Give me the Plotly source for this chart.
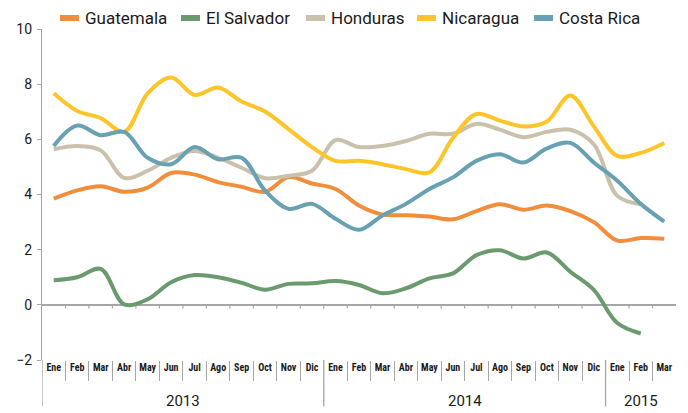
import plotly.graph_objects as go

months = ["Ene", "Feb", "Mar", "Abr", "May", "Jun", "Jul", "Ago", "Sep", "Oct", "Nov", "Dic",
          "Ene", "Feb", "Mar", "Abr", "May", "Jun", "Jul", "Ago", "Sep", "Oct", "Nov", "Dic",
          "Ene", "Feb", "Mar"]
years = ["2013", "2014", "2015"]
year_centers = [5.5, 17.5, 25]
year_bounds = [-0.5, 11.5, 23.5]

guatemala = [3.85, 4.15, 4.3, 4.1, 4.25, 4.78, 4.72, 4.45, 4.28, 4.1, 4.63, 4.4,
             4.2, 3.6, 3.27, 3.25, 3.2, 3.1, 3.4, 3.65, 3.45, 3.6, 3.4, 3.0,
             2.33, 2.42, 2.4]
el_salvador = [0.89, 1.0, 1.3, 0.02, 0.2, 0.82, 1.08, 1.0, 0.8, 0.55, 0.76, 0.78,
               0.86, 0.72, 0.42, 0.6, 0.96, 1.14, 1.8, 1.98, 1.68, 1.9, 1.2, 0.54,
               -0.66, -1.04, None]
honduras = [5.64, 5.76, 5.6, 4.6, 4.86, 5.33, 5.58, 5.33, 4.97, 4.59, 4.68, 4.86,
            5.97, 5.72, 5.76, 5.94, 6.2, 6.2, 6.56, 6.35, 6.08, 6.27, 6.35, 5.82,
            3.95, 3.65, None]
nicaragua = [7.67, 7.03, 6.77, 6.27, 7.67, 8.24, 7.61, 7.88, 7.37, 7.01, 6.37, 5.72,
             5.22, 5.22, 5.1, 4.92, 4.8, 6.05, 6.92, 6.68, 6.47, 6.65, 7.59, 6.47,
             5.4, 5.51, 5.87]
costa_rica = [5.76, 6.5, 6.15, 6.27, 5.33, 5.1, 5.72, 5.28, 5.33, 4.14, 3.48, 3.66,
              3.12, 2.72, 3.24, 3.66, 4.2, 4.62, 5.22, 5.46, 5.16, 5.67, 5.87, 5.16,
              4.5, 3.66, 3.02]

series = [
    ("Guatemala", guatemala, "#F08E3C"),
    ("El Salvador", el_salvador, "#6B9A6E"),
    ("Honduras", honduras, "#C9C1AB"),
    ("Nicaragua", nicaragua, "#FDC52A"),
    ("Costa Rica", costa_rica, "#68A2B2"),
]

COND = "Roboto Condensed, Liberation Sans Narrow, DejaVu Sans Condensed, Roboto, sans-serif"
FONT = "Roboto, Liberation Sans, sans-serif"
AXIS = "#A6A6A6"

# figure geometry (the page body adds an 8px offset, so the figure is 680x405)
W, H = 680, 405
ML, MR, MT, MB = 34, 12, 21, 53
PW, PH = W - ML - MR, H - MT - MB


def px_to_paper_x(px):
    return (px - ML) / PW


def px_to_paper_y(py):
    return 1 + (MT - py) / PH


x = list(range(len(months)))
fig = go.Figure()
for name, vals, color in series:
    fig.add_trace(go.Scatter(
        x=x, y=vals, name=name, mode="lines",
        line=dict(color=color, width=4, shape="spline", smoothing=1.0),
        connectgaps=False, hoverinfo="skip", showlegend=False,
    ))

inner_bounds = [i + 0.5 for i in range(len(months) - 1)]
month_seps = [b for b in inner_bounds if b not in year_bounds]

shapes = []
for b in inner_bounds:
    shapes.append(dict(type="line", xref="x", yref="y", x0=b, x1=b, y0=0, y1=-0.13,
                       line=dict(color=AXIS, width=1.2), layer="below"))
for b in year_bounds:
    shapes.append(dict(type="line", xref="x", yref="paper", x0=b, x1=b, y0=-0.14, y1=0,
                       line=dict(color=AXIS, width=1.3)))

annotations = []
for yr, c in zip(years, year_centers):
    annotations.append(dict(text=yr, x=c, xref="x", y=-0.124, yref="paper",
                            yanchor="middle", showarrow=False,
                            font=dict(family=FONT, size=15, color="#1a1a1a")))

# legend row: swatch + label per series
legend_left_px = [52, 173, 298, 409, 526]
SW_W, SW_H, LEG_Y = 19, 6, 10
for (name, _, color), lx in zip(series, legend_left_px):
    shapes.append(dict(type="rect", xref="paper", yref="paper",
                       x0=px_to_paper_x(lx), x1=px_to_paper_x(lx + SW_W),
                       y0=px_to_paper_y(LEG_Y + SW_H / 2), y1=px_to_paper_y(LEG_Y - SW_H / 2),
                       fillcolor=color, line=dict(width=0)))
    annotations.append(dict(text=name, xref="paper", yref="paper",
                            x=px_to_paper_x(lx + SW_W + 4), y=px_to_paper_y(LEG_Y),
                            xanchor="left", yanchor="middle", showarrow=False,
                            font=dict(family=FONT, size=17, color="#1a1a1a")))

fig.update_layout(
    width=W, height=H,
    margin=dict(l=ML, r=MR, t=MT, b=MB, autoexpand=False),
    paper_bgcolor="white", plot_bgcolor="white",
    font=dict(family=FONT, color="#1a1a1a"),
    showlegend=False,
    xaxis=dict(range=[-0.5, 26.5], tickmode="array", tickvals=x, ticktext=months,
               ticks="", automargin=False,
               showline=False, showgrid=False, zeroline=False,
               tickfont=dict(family=COND, size=10, color="#1a1a1a", weight="bold"),
               minor=dict(tickmode="array", tickvals=month_seps, ticks="outside",
                          ticklen=20, tickcolor=AXIS, tickwidth=1, showgrid=False)),
    yaxis=dict(range=[-2, 10], tickmode="array", tickvals=[-2, 0, 2, 4, 6, 8, 10],
               showline=True, linecolor=AXIS, linewidth=1.3, automargin=False,
               ticks="outside", ticklen=4, tickcolor=AXIS, ticklabelstandoff=2,
               showgrid=False, zeroline=True, zerolinecolor=AXIS, zerolinewidth=1.5,
               tickfont=dict(family=FONT, size=14, color="#1a1a1a")),
    shapes=shapes,
    annotations=annotations,
)

fig.write_html("out.html")
